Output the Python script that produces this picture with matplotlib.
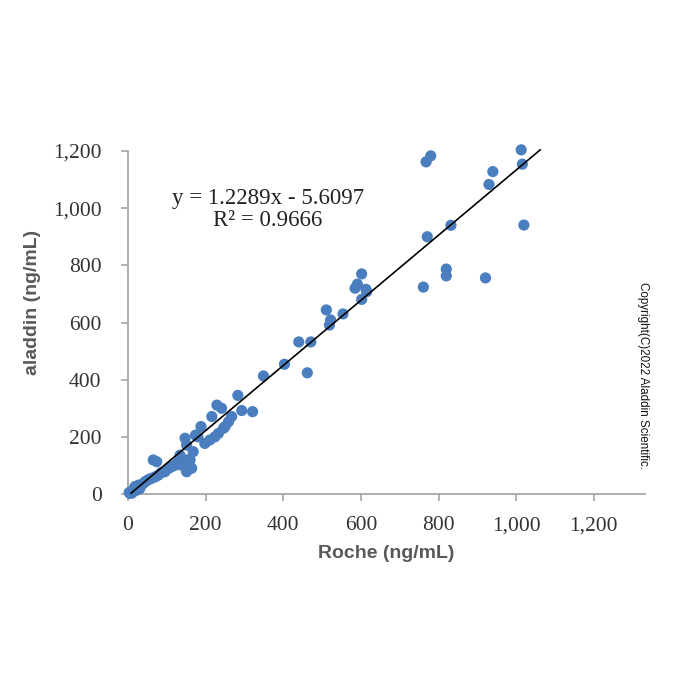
import numpy as np
import matplotlib
matplotlib.use("Agg")
import matplotlib.pyplot as plt

# values
roche = [3, 5, 9, 10, 14, 18, 20, 22, 27, 30, 32, 38, 44, 50, 55, 61, 65, 70, 74, 78,
         86, 95, 105, 113, 120, 128, 134, 138, 147, 151, 151, 155, 160, 164, 168, 174,
         180, 188, 198, 211, 216, 224, 229, 233, 241, 246, 250, 259, 267, 283, 293, 321,
         349, 403, 440, 462, 471, 511, 519, 522, 554, 585, 591, 602, 602, 613, 615,
         761, 768, 771, 780, 820, 820, 832, 921, 930, 940, 1013, 1016, 1020]
aladdin = [5, 2, 8, 3, 15, 26, 12, 20, 31, 18, 28, 35, 43, 48, 52, 55, 119, 60, 113, 66,
           75, 78, 90, 96, 100, 110, 136, 101, 195, 171, 78, 120, 119, 90, 148, 206,
           200, 236, 177, 189, 271, 200, 311, 212, 300, 230, 236, 253, 271, 345, 292, 288,
           413, 454, 532, 424, 532, 644, 591, 609, 630, 720, 734, 770, 681, 716, 708,
           724, 1162, 900, 1183, 787, 763, 940, 756, 1083, 1128, 1204, 1154, 941]

# trend line as drawn in the picture
fit_x = [8, 1062]
fit_y = [3, 1204]
equation = "y = 1.2289x - 5.6097"
r2_text = "R² = 0.9666"

ticks = [0, 200, 400, 600, 800, 1000, 1200]
tick_labels = ["0", "200", "400", "600", "800", "1,000", "1,200"]

grey = "#a6a6a6"
dot = "#4a7ebf"

fig = plt.figure(figsize=(7, 7), dpi=100)
ax = fig.add_axes([128/700, 1 - 494/700, 517/700, 343/700])

ax.scatter(roche, aladdin, s=65, color=dot, edgecolors="none", zorder=3, clip_on=False)
ax.plot(fit_x, fit_y, color="black", lw=1.2, zorder=4, clip_on=False)

ax.set_xlim(0, 1332)
ax.set_ylim(0, 1200)
ax.set_xticks(ticks)
ax.set_xticklabels(tick_labels)
ax.set_yticks(ticks)
ax.set_yticklabels(tick_labels)

for s in ["top", "right"]:
    ax.spines[s].set_visible(False)
for s in ["left", "bottom"]:
    ax.spines[s].set_color(grey)
    ax.spines[s].set_linewidth(1.3)

ax.tick_params(axis="both", direction="out", length=5, width=1.2, color=grey,
               labelsize=15.5, labelcolor="#333333")
ax.tick_params(axis="x", pad=11)
ax.tick_params(axis="y", pad=14)
for lab in ax.get_xticklabels() + ax.get_yticklabels():
    lab.set_family("Liberation Serif")

ax.set_xlabel("Roche (ng/mL)", fontsize=14, fontweight="bold", color="#595959",
              family="Liberation Sans", labelpad=7)
fig.text(33/700, 1 - 302/700, "aladdin (ng/mL)", rotation=90, ha="center", va="center",
         fontsize=14, fontweight="bold", color="#595959", family="Liberation Sans")

fig.text(268/700, 1 - 198/700, equation, ha="center", va="center", fontsize=16.5,
         family="Liberation Serif", color="#222222")
fig.text(268/700, 1 - 221/700, r2_text, ha="center", va="center", fontsize=16.5,
         family="Liberation Serif", color="#222222")

fig.text(643/700, 1 - 375/700, "Copyright(C)2022 Aladdin Scientific.", rotation=-90,
         ha="center", va="center", fontsize=8.4, family="Liberation Sans", color="#111111")

fig.savefig("out.png", dpi=100)
